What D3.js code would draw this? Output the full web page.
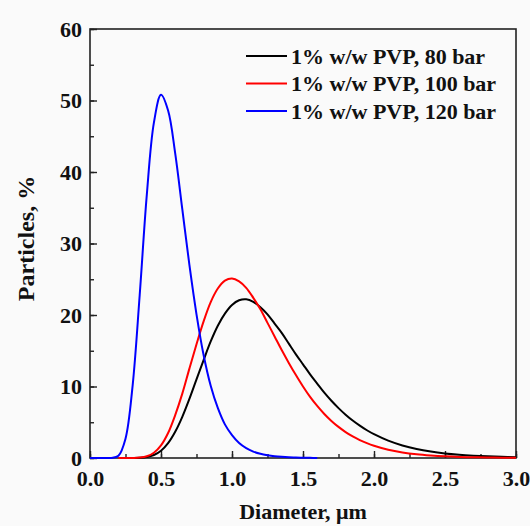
<!DOCTYPE html>
<html>
<head>
<meta charset="utf-8">
<script src="https://cdn.jsdelivr.net/npm/d3@7"></script>
<style>
  html, body { margin: 0; padding: 0; background: #fafafa; }
  svg { display: block; }
  text { font-family: "Liberation Serif", "Times New Roman", serif; font-weight: bold; fill: #111; }
</style>
</head>
<body>
<script>
// ---- data ----
const xBlue = [0, 0.05, 0.10, 0.15, 0.20, 0.25, 0.30, 0.35, 0.40, 0.45, 0.50, 0.55, 0.60, 0.65, 0.70, 0.75, 0.80, 0.85, 0.90, 0.95, 1.00, 1.05, 1.10, 1.15, 1.20, 1.25, 1.30, 1.35, 1.40, 1.45, 1.50, 1.55, 1.60];
const yBlue = [0, 0, 0, 0.01, 0.31, 2.7, 10.1, 22.8, 36.8, 46.9, 50.8, 48.6, 42.6, 34.8, 27.0, 20.1, 14.4, 10.1, 7.0, 4.7, 3.2, 2.1, 1.38, 0.9, 0.59, 0.39, 0.25, 0.16, 0.1, 0.07, 0.04, 0.02, 0.01];

const xRed = [0.20, 0.25, 0.30, 0.35, 0.40, 0.45, 0.50, 0.55, 0.60, 0.65, 0.70, 0.75, 0.80, 0.85, 0.90, 0.95, 1.00, 1.05, 1.10, 1.15, 1.20, 1.25, 1.30, 1.35, 1.40, 1.45, 1.50, 1.55, 1.60, 1.65, 1.70, 1.75, 1.80, 1.85, 1.90, 1.95, 2.00, 2.10, 2.20, 2.30, 2.40, 2.50, 2.60, 2.70, 2.80, 2.90, 3.00];
const yRed = [0, 0, 0.01, 0.06, 0.24, 0.74, 1.77, 3.5, 6.0, 9.0, 12.5, 15.9, 19.1, 21.8, 23.7, 24.8, 25.1, 24.7, 23.8, 22.4, 20.8, 18.9, 17.0, 15.1, 13.3, 11.6, 10.0, 8.55, 7.28, 6.16, 5.19, 4.35, 3.63, 3.02, 2.51, 2.08, 1.72, 1.16, 0.78, 0.52, 0.35, 0.23, 0.15, 0.1, 0.07, 0.045, 0.03];

const xBlack = [0.25, 0.30, 0.35, 0.40, 0.45, 0.50, 0.55, 0.60, 0.65, 0.70, 0.75, 0.80, 0.85, 0.90, 0.95, 1.00, 1.05, 1.10, 1.15, 1.20, 1.25, 1.30, 1.35, 1.40, 1.45, 1.50, 1.55, 1.60, 1.65, 1.70, 1.75, 1.80, 1.85, 1.90, 1.95, 2.00, 2.10, 2.20, 2.30, 2.40, 2.50, 2.60, 2.70, 2.80, 2.90, 3.00];
const yBlack = [0, 0.005, 0.03, 0.14, 0.42, 1.02, 2.08, 3.67, 5.76, 8.27, 11.0, 13.7, 16.3, 18.5, 20.2, 21.4, 22.06, 22.2, 21.84, 21.1, 20.1, 18.8, 17.5, 16.0, 14.5, 13.1, 11.7, 10.4, 9.13, 8.0, 6.98, 6.06, 5.24, 4.52, 3.88, 3.33, 2.43, 1.76, 1.26, 0.9, 0.64, 0.46, 0.33, 0.23, 0.16, 0.12];

const seriesNames = ["1% w/w PVP, 80 bar", "1% w/w PVP, 100 bar", "1% w/w PVP, 120 bar"];
const seriesColors = ["#000000", "#ff0000", "#0000ff"];
const xTickValues = [0, 0.5, 1.0, 1.5, 2.0, 2.5, 3.0];
const yTickValues = [0, 10, 20, 30, 40, 50, 60];
const xLabel = "Diameter, \u03bcm";
const yLabel = "Particles, %";

// ---- layout ----
const W = 530, H = 526;
const m = { left: 90, right: 14, top: 29, bottom: 68 };
const pw = W - m.left - m.right, ph = H - m.top - m.bottom;

const svg = d3.select("body").append("svg").attr("width", W).attr("height", H);
svg.append("rect").attr("width", W).attr("height", H).attr("fill", "#fafafa");
const g = svg.append("g").attr("transform", `translate(${m.left},${m.top})`);

const x = d3.scaleLinear().domain([0, 3]).range([0, pw]);
const y = d3.scaleLinear().domain([0, 60]).range([ph, 0]);

// frame
g.append("rect").attr("width", pw).attr("height", ph).attr("fill", "none").attr("stroke", "#222").attr("stroke-width", 1.6);

// axes (inward ticks)
const xMinor = d3.range(0, 3.001, 0.25);
const yMinor = d3.range(0, 60.001, 5);
const xAxisMinor = g.append("g").attr("transform", `translate(0,${ph})`)
  .call(d3.axisBottom(x).tickValues(xMinor).tickSize(-4).tickFormat(""));
const xAxis = g.append("g").attr("transform", `translate(0,${ph})`)
  .call(d3.axisBottom(x).tickValues(xTickValues).tickSize(-7).tickPadding(12).tickFormat(d3.format(".1f")));
const yAxisMinor = g.append("g").call(d3.axisLeft(y).tickValues(yMinor).tickSize(-4).tickFormat(""));
const yAxis = g.append("g").call(d3.axisLeft(y).tickValues(yTickValues).tickSize(-7).tickPadding(8).tickFormat(d3.format("d")));
[xAxisMinor, xAxis, yAxisMinor, yAxis].forEach(a => {
  a.select(".domain").remove();
  a.selectAll(".tick line").attr("stroke", "#222").attr("stroke-width", 1.4);
});
xAxis.selectAll("text").style("font-size", "22px").attr("fill", "#111").attr("dy", "0.71em");
yAxis.selectAll("text").style("font-size", "22px").attr("fill", "#111");

// axis titles
svg.append("text").attr("x", m.left + pw / 2).attr("y", 519).attr("text-anchor", "middle")
  .style("font-size", "22px").text(xLabel);
svg.append("text").attr("transform", `translate(34,${m.top + ph / 2 - 5}) rotate(-90)`).attr("text-anchor", "middle")
  .style("font-size", "24px").text(yLabel);

// curves
const line = d3.line().x(d => x(d[0])).y(d => y(d[1])).curve(d3.curveCatmullRom.alpha(0.5));
const data = [
  { xs: xBlack, ys: yBlack, c: seriesColors[0] },
  { xs: xRed, ys: yRed, c: seriesColors[1] },
  { xs: xBlue, ys: yBlue, c: seriesColors[2] }
];
data.forEach(s => {
  g.append("path").datum(s.xs.map((v, i) => [v, s.ys[i]]))
    .attr("fill", "none").attr("stroke", s.c).attr("stroke-width", 2).attr("d", line);
});

// legend
const lg = svg.append("g");
seriesNames.forEach((n, i) => {
  const yy = 56 + i * 27.5;
  lg.append("line").attr("x1", 246).attr("x2", 287).attr("y1", yy).attr("y2", yy)
    .attr("stroke", seriesColors[i]).attr("stroke-width", 2);
  lg.append("text").attr("x", 291).attr("y", yy).attr("dy", "0.35em").style("font-size", "22px").text(n);
});
</script>
</body>
</html>
